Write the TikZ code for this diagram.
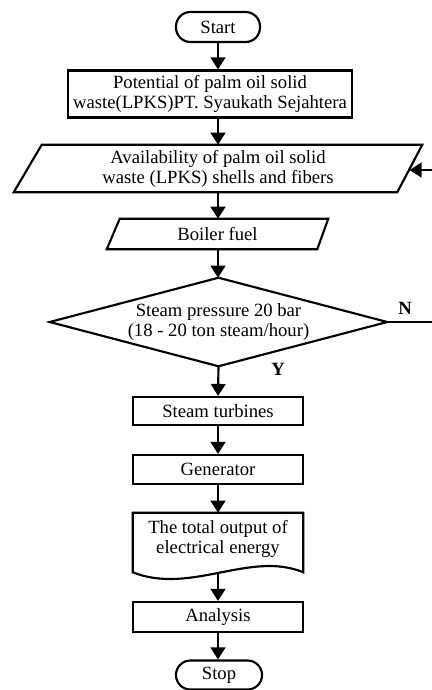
\documentclass[tikz,border=0pt]{standalone}
\usepackage{fontspec}
\setmainfont{Liberation Serif}
\usetikzlibrary{arrows.meta,calc}
\begin{document}
\begin{tikzpicture}[x=0.75pt,y=-0.75pt,
  every node/.style={font=\fontsize{14}{15}\selectfont, inner sep=0pt, align=center},
  frame/.style={draw, line width=1.6pt, line join=miter},
  term/.style={frame, rounded corners=10.8pt},
  proc/.style={frame, minimum width=127.5pt},
  plain/.style={},
  lab/.style={font=\fontsize{14}{15}\selectfont\bfseries},
  arr/.style={line width=1.6pt, -{Triangle[length=9pt,width=11pt]}}
]
\useasboundingbox (0,0) rectangle (432,690);

\node[term, minimum width=63pt, minimum height=22.5pt] (start) at (218,27) {Start};
\node[frame, minimum width=213pt, minimum height=35.25pt] (pot) at (210,94)
  {Potential of palm oil solid\\waste(LPKS)PT. Syaukath Sejahtera};

\node[plain, minimum width=306pt, minimum height=35.25pt] (avail) at (218,168.5)
  {Availability of palm oil solid\\waste (LPKS) shells and fibers};
\draw[frame] ($(avail.north west)+(28,0)$) -- (avail.north east)
  -- ($(avail.south east)+(-25,0)$) -- (avail.south west) -- cycle;

\node[plain, minimum width=165.75pt, minimum height=22.5pt] (boil) at (217.5,234) {Boiler fuel};
\draw[frame] ($(boil.north west)+(13,0)$) -- (boil.north east)
  -- ($(boil.south east)+(-11,0)$) -- (boil.south west) -- cycle;

\node[plain, minimum width=252.75pt, minimum height=66pt] (dec) at (218.5,322)
  {Steam pressure 20 bar\\(18 - 20 ton steam/hour)};
\draw[frame] (dec.north) -- (dec.east) -- (dec.south) -- (dec.west) -- cycle;
\node[lab] (nlab) at (405,308) {N};
\node[lab] (ylab) at (278,369) {Y};

\node[proc, minimum height=21pt] (turb) at (218,411) {Steam turbines};
\node[proc, minimum height=21.75pt] (gen) at (218,469.5) {Generator};

\node[plain, minimum width=127.5pt, minimum height=39pt] (doc) at (218,539)
  {The total output of\\electrical energy};
\draw[frame] (doc.south west) -- (doc.north west) -- (doc.north east)
  -- ($(doc.south east)+(0,7)$)
  .. controls ($(doc.south east)+(-53,-15)$) and ($(doc.south east)+(-113,30)$)
  .. ($(doc.south west)+(0,7)$) -- cycle;
\coordinate (docb) at (218,572);

\node[proc, minimum height=22.5pt] (ana) at (218,617) {Analysis};
\node[term, minimum width=64.5pt, minimum height=21.75pt] (stop) at (219,675) {Stop};

\coordinate (loopa) at (437,322);
\coordinate (loopb) at (437,170);
\coordinate (availr) at (409.5,170);

\draw[arr] (start.south) -- (start.south |- pot.north);
\draw[arr] (start.south |- pot.south) -- (avail.north);
\draw[arr] (avail.south) -- (avail.south |- boil.north);
\draw[arr] (boil.north |- boil.south) ++(0.5,0) coordinate (boilb) (boilb) -- (boilb |- dec.north);
\draw[arr] (dec.south) -- (turb.north);
\draw[arr] (turb.south) -- (gen.north);
\draw[arr] (gen.south) -- (doc.north);
\draw[arr] (docb) -- (ana.north);
\draw[arr] (ana.south) -- (stop.north -| ana.south);
\draw[arr] (dec.east) -- (loopa) -- (loopb) -- (availr);
\end{tikzpicture}
\end{document}
